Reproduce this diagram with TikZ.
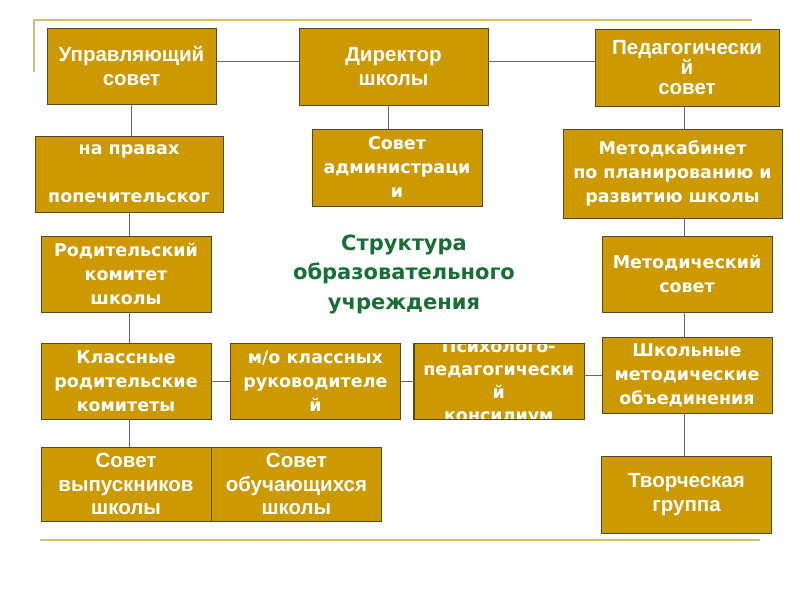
\documentclass[tikz,border=0pt]{standalone}
\usepackage{fontspec}
\setmainfont{DejaVu Sans}
\newfontfamily\narrowsf{Liberation Sans}
\usetikzlibrary{positioning}

\definecolor{boxgold}{RGB}{204,153,0}
\definecolor{boxedge}{RGB}{85,72,40}
\definecolor{trim}{RGB}{217,188,120}
\definecolor{titlegreen}{RGB}{24,110,52}
\definecolor{linkgray}{RGB}{105,105,105}

\newcommand{\narrowtext}{\narrowsf\bfseries\fontsize{20.5}{23.5}\selectfont}
\newcommand{\widetext}{\bfseries\fontsize{17.5}{24}\selectfont}
\newcommand{\titletext}{\bfseries\fontsize{21}{29.5}\selectfont}

\begin{document}
\begin{tikzpicture}[x=1pt, y=-1pt,
  box/.style={draw=boxedge, fill=boxgold, text=white, align=center,
    inner sep=0pt, minimum width=170pt, minimum height=76pt},
  narrow/.style={box, font=\narrowtext},
  wide/.style={box, font=\widetext},
  link/.style={draw=linkgray, line width=0.8pt},
  trimline/.style={draw=trim, line width=2.5pt}
]
\useasboundingbox (0,0) rectangle (800,600);

\draw[trimline] (34,72) -- (34,20) -- (752,20);
\draw[trimline] (40,540) -- (760,540);

% top row
\node[narrow, minimum width=169pt] (upr) at (131.5,66) {Управляющий\\совет};
\node[narrow, minimum width=189pt, minimum height=77pt] (dir) at (393.5,66.5) {Директор\\школы};
\node[narrow, minimum width=184pt, minimum height=77pt] (ped) at (687,67.5)
  {Педагогически\\[-3.5pt]й\\[-3.5pt]совет};

% second row
\node[wide, minimum width=188pt] (pop) at (129,174) {на правах\\\mbox{}\\попечительског};
\node[wide, minimum height=77pt] (adm) at (397,167.5) {Совет\\администраци\\и};
\node[wide, minimum width=219pt, minimum height=89pt] (mkab) at (672.5,173.5)
  {Методкабинет\\по планированию и\\развитию школы};

% third row
\node[wide] (rod) at (126,274) {Родительский\\комитет\\школы};
\node[font=\titletext, text=titlegreen, align=center] (title) at (404,274)
  {Структура\\образовательного\\учреждения};
\node[wide] (msov) at (687,274) {Методический\\совет};

% fourth row
\node[wide] (klass) at (126,381) {Классные\\родительские\\комитеты};
\node[wide, right=19pt of klass] (mo) {м/о классных\\руководителе\\й};
\node[box, right=13pt of mo] (psy) {};
\begin{scope}
  \clip (psy.north west) rectangle (psy.south east);
  \node[font=\widetext, text=white, align=center] (psytext) at ([yshift=-1.5pt]psy.center)
    {Психолого-\\[-1pt]педагогически\\[-1pt]й\\[-1pt]консилиум};
\end{scope}
\draw[draw=boxedge] (psy.north west) rectangle (psy.south east);
\node[wide] (shk) at (687,375) {Школьные\\методические\\объединения};

% bottom row
\node[narrow, minimum height=74pt] (vyp) at (126,484) {Совет\\выпускников\\школы};
\node[narrow, minimum height=74pt, right=0pt of vyp] (obuch) {Совет\\обучающихся\\школы};
\node[narrow, minimum height=77pt] (tvor) at (686.5,494.5) {Творческая\\группа};

\draw[link] ([yshift=5pt]upr.east) -- ([yshift=5pt]upr.east -| dir.west);
\draw[link] ([yshift=5pt]dir.east) -- ([yshift=5pt]dir.east -| ped.west);
\draw[link] (upr.south) -- (upr.south |- pop.north);
\draw[link] (pop.south) -- (pop.south |- rod.north);
\draw[link] (pop.south |- rod.south) -- (pop.south |- klass.north);
\draw[link] (pop.south |- klass.south) -- (pop.south |- vyp.north);
\draw[link] ([xshift=-5pt]dir.south) -- ([xshift=-5pt]dir.south |- adm.north);
\draw[link] ([xshift=-3pt]ped.south) -- ([xshift=-3pt]ped.south |- mkab.north);
\draw[link] ([xshift=-3pt]ped.south |- mkab.south) -- ([xshift=-3pt]ped.south |- msov.north);
\draw[link] ([xshift=-3pt]msov.south) -- ([xshift=-3pt]msov.south |- shk.north);
\draw[link] ([xshift=-3pt]shk.south) -- ([xshift=-3pt]shk.south |- tvor.north);
\draw[link] (klass.east) -- (mo.west);
\draw[link] (mo.east) -- (psy.west);
\draw[link] (shk.west -| psy.east) -- (shk.west);
\end{tikzpicture}
\end{document}
